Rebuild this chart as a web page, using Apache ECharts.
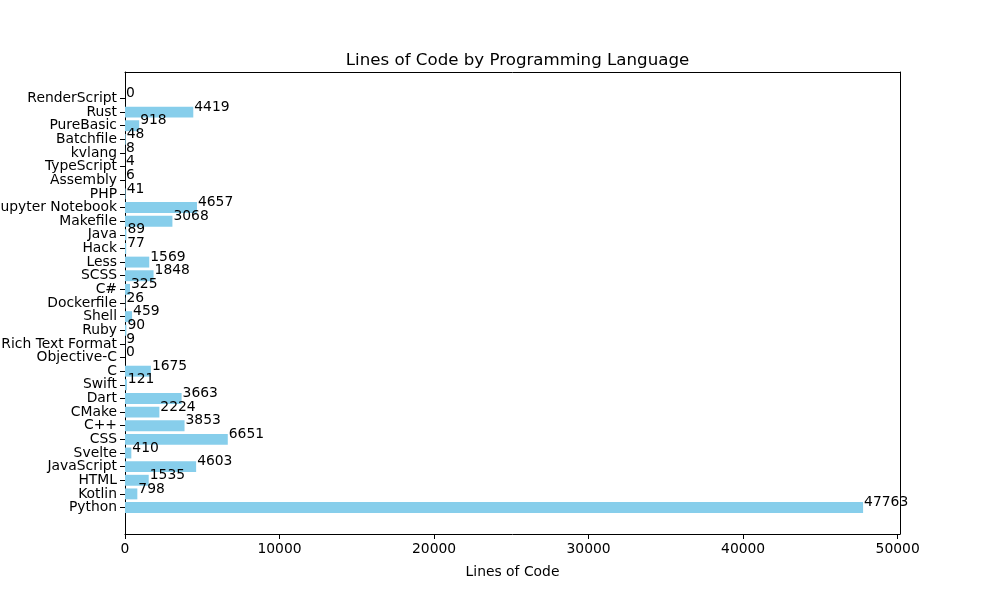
<!DOCTYPE html>
<html>
<head>
<meta charset="utf-8">
<script src="https://cdn.jsdelivr.net/npm/echarts@6/dist/echarts.min.js"></script>
<style>html,body{margin:0;padding:0;background:#fff}#c{width:1000px;height:600px}</style>
</head>
<body>
<div id="c"></div>
<script>
const languages = ["Python","Kotlin","HTML","JavaScript","Svelte","CSS","C++","CMake","Dart","Swift","C","Objective-C","Rich Text Format","Ruby","Shell","Dockerfile","C#","SCSS","Less","Hack","Java","Makefile","Jupyter Notebook","PHP","Assembly","TypeScript","kvlang","Batchfile","PureBasic","Rust","RenderScript"];
const linesOfCode = [47763,798,1535,4603,410,6651,3853,2224,3663,121,1675,0,9,90,459,26,325,1848,1569,77,89,3068,4657,41,6,4,8,48,918,4419,0];
const xTicks = [0,10000,20000,30000,40000,50000];

const FONT = 'DejaVu Sans';
const FS = 13.89;
const xMax = Math.max(...linesOfCode) * 1.05;
const n = languages.length;
// matplotlib-like margins
const plotTop = 72, plotBottom = 66, plotH = 600 - plotTop - plotBottom;
const span = (n - 1 + 0.8) * 1.1;
const unit = plotH / span;
const pad = (span - n) / 2 * unit;
const spine = {show:true, onZero:false, lineStyle:{color:'#000', width:1}};

const chart = echarts.init(document.getElementById('c'), null, {renderer:'canvas'});
chart.setOption({
  animation:false,
  backgroundColor:'#fff',
  title:{
    text:'Lines of Code by Programming Language',
    left:512.5, top:47, textAlign:'center',
    textStyle:{fontFamily:FONT, fontSize:16.67, fontWeight:'normal', color:'#000'}
  },
  grid:[
    {left:125, right:100, top:plotTop, bottom:plotBottom, containLabel:false, outerBoundsMode:'none'},
    {left:125, right:100, top:plotTop+pad, bottom:plotBottom+pad, containLabel:false, outerBoundsMode:'none'}
  ],
  xAxis:[
    {type:'value', gridIndex:0, min:0, max:xMax, interval:10000, position:'bottom',
     axisLine:spine,
     axisTick:{show:true, inside:false, length:5, lineStyle:{color:'#000', width:1}},
     axisLabel:{show:true, margin:8, color:'#000', fontFamily:FONT, fontSize:FS, showMaxLabel:false,
       formatter:v => xTicks.includes(v) ? String(v) : ''},
     splitLine:{show:false},
     name:'Lines of Code', nameLocation:'middle', nameGap:31,
     nameTextStyle:{fontFamily:FONT, fontSize:FS, color:'#000'}},
    {type:'value', gridIndex:0, min:0, max:xMax, position:'top',
     axisLine:spine, axisTick:{show:false}, axisLabel:{show:false}, splitLine:{show:false}},
    {type:'value', gridIndex:1, min:0, max:xMax, show:false, splitLine:{show:false}}
  ],
  yAxis:[
    {type:'value', gridIndex:0, min:0, max:1, position:'left',
     axisLine:spine, axisTick:{show:false}, axisLabel:{show:false}, splitLine:{show:false}},
    {type:'value', gridIndex:0, min:0, max:1, position:'right',
     axisLine:spine, axisTick:{show:false}, axisLabel:{show:false}, splitLine:{show:false}},
    {type:'category', gridIndex:1, data:languages, boundaryGap:true, position:'left',
     axisLine:{show:false, onZero:false},
     axisTick:{show:true, alignWithLabel:true, length:5, lineStyle:{color:'#000', width:1}},
     axisLabel:{show:true, margin:8, color:'#000', fontFamily:FONT, fontSize:FS, interval:0, padding:[3,0,0,0]},
     splitLine:{show:false}}
  ],
  series:[{
    type:'bar', xAxisIndex:2, yAxisIndex:2,
    data:linesOfCode,
    barCategoryGap:'20%',
    itemStyle:{color:'#87CEEB'},
    label:{show:true, position:'right', distance:1, offset:[0,-5],
      color:'#000', fontFamily:FONT, fontSize:FS},
    silent:true
  }]
});
</script>
</body>
</html>
